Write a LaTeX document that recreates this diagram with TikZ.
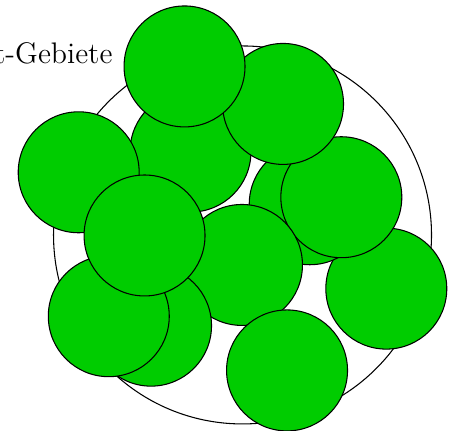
\documentclass[tikz,border=0pt]{standalone}
\usepackage{tikz}
\definecolor{subgreen}{RGB}{0,204,0}

\begin{document}
\begin{tikzpicture}[subdomain/.style={fill=subgreen,draw=black,line width=0.4pt}]
    \useasboundingbox (-3.208,-2.593) rectangle (2.758,3.108);
    \draw[black,line width=0.4pt] (0,0) circle (2.5cm);
    \path[subdomain] (-0.688,1.102) circle (0.8cm);
    \path[subdomain] (-2.167,0.829) circle (0.8cm);
    \path[subdomain] (1.902,-0.710) circle (0.8cm);
    \path[subdomain] (0.889,0.406) circle (0.8cm);
    \path[subdomain] (1.307,0.499) circle (0.8cm);
    \path[subdomain] (0.536,1.733) circle (0.8cm);
    \path[subdomain] (-0.767,2.229) circle (0.8cm);
    \path[subdomain] (-0.007,-0.397) circle (0.8cm);
    \path[subdomain] (0.589,-1.792) circle (0.8cm);
    \path[subdomain] (-1.210,-1.200) circle (0.8cm);
    \path[subdomain] (-1.769,-1.075) circle (0.8cm);
    \path[subdomain] (-1.296,-0.007) circle (0.8cm);
    \node[anchor=base east,inner sep=0pt,font=\fontsize{11.2pt}{13pt}\selectfont] (title) at (-1.713,2.270) {t-Gebiete};
\end{tikzpicture}
\end{document}
